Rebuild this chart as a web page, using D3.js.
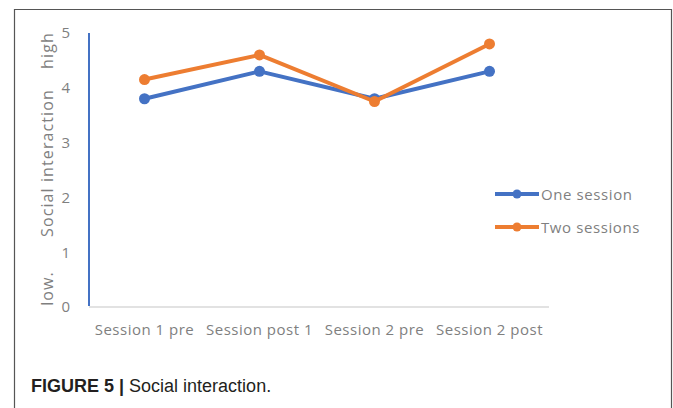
<!DOCTYPE html>
<html>
<head>
<meta charset="utf-8">
<script src="https://cdn.jsdelivr.net/npm/d3@7"></script>
<style>
  html, body { margin: 0; padding: 0; background: #fff; }
  svg { display: block; }
</style>
</head>
<body>
<script>
// Social interaction ratings per session
const categories = ["Session 1 pre", "Session post 1", "Session 2 pre", "Session 2 post"];
const oneSession = [3.8, 4.3, 3.8, 4.3];
const twoSessions = [4.15, 4.6, 3.75, 4.8];
const yTicks = [0, 1, 2, 3, 4, 5];
const seriesNames = ["One session", "Two sessions"];

const W = 673, H = 408;
const BLUE = "#4472C4", ORANGE = "#ED7D31", GREY = "#7f7f7f";
const FONT = "'Open Sans', sans-serif";

const svg = d3.select("body").append("svg")
  .attr("width", W).attr("height", H);

// figure frame
svg.append("path")
  .attr("d", "M14.5,412 V9.5 H671.5 V412")
  .attr("fill", "none").attr("stroke", "#555").attr("stroke-width", 1.2);

const x = d3.scaleBand().domain(categories).range([87, 547]);
const y = d3.scaleLinear().domain([0, 5]).range([307, 33]);

// x baseline
svg.append("line")
  .attr("x1", 89).attr("x2", 549)
  .attr("y1", y(0)).attr("y2", y(0))
  .attr("stroke", "#d9d9d9").attr("stroke-width", 1.5);

// y axis
const yAxis = svg.append("g").attr("transform", "translate(89,0)")
  .call(d3.axisLeft(y).tickValues(yTicks).tickSize(0).tickPadding(19).tickFormat(d3.format("d")));
yAxis.select(".domain").attr("stroke", BLUE).attr("stroke-width", 2)
  .attr("d", `M0,${y(5)}V${y(0) - 1}`);
yAxis.selectAll("text")
  .attr("fill", GREY).attr("font-family", FONT).attr("font-size", 15);

// x axis labels
const xAxis = svg.append("g").attr("transform", `translate(0,${y(0)})`)
  .call(d3.axisBottom(x).tickSize(0).tickPadding(17));
xAxis.select(".domain").remove();
xAxis.selectAll("text")
  .attr("fill", GREY).attr("font-family", FONT)
  .attr("font-size", 15).attr("letter-spacing", 0.5);

// y axis title pieces, read bottom to top
const titleParts = [
  { text: "low.", at: 288.5 },
  { text: "Social interaction", at: 163 },
  { text: "high", at: 50.5 }
];
svg.append("g").selectAll("text").data(titleParts).join("text")
  .attr("transform", d => `translate(53,${d.at}) rotate(-90)`)
  .attr("text-anchor", "middle")
  .attr("fill", GREY).attr("font-family", FONT)
  .attr("font-size", 16).attr("letter-spacing", 1.1)
  .text(d => d.text);

// series
const series = [
  { name: seriesNames[0], values: oneSession, color: BLUE },
  { name: seriesNames[1], values: twoSessions, color: ORANGE }
];
const cx = c => x(c) + x.bandwidth() / 2;
const line = d3.line().x((d, i) => cx(categories[i])).y(d => y(d));

series.forEach(s => {
  const g = svg.append("g");
  g.append("path").datum(s.values)
    .attr("d", line).attr("fill", "none")
    .attr("stroke", s.color).attr("stroke-width", 4)
    .attr("stroke-linejoin", "round").attr("stroke-linecap", "round");
  g.selectAll("circle").data(s.values).join("circle")
    .attr("cx", (d, i) => cx(categories[i])).attr("cy", d => y(d))
    .attr("r", 5.5).attr("fill", s.color);
});

// legend
const legend = svg.append("g").selectAll("g").data(series).join("g")
  .attr("transform", (d, i) => `translate(495,${194 + i * 33})`);
legend.append("line").attr("x1", 0).attr("x2", 44)
  .attr("stroke", d => d.color).attr("stroke-width", 4);
legend.append("circle").attr("cx", 22).attr("r", 4.5).attr("fill", d => d.color);
legend.append("text").attr("x", 46).attr("dy", "0.38em")
  .attr("fill", GREY).attr("font-family", FONT)
  .attr("font-size", 15).attr("letter-spacing", 0.6)
  .text(d => d.name);

// caption
const cap = svg.append("text").attr("x", 31).attr("y", 392)
  .attr("font-family", "'Liberation Sans', Arial, sans-serif").attr("font-size", 18)
  .attr("fill", "#231f20");
cap.append("tspan").attr("font-weight", "bold").text("FIGURE 5 | ");
cap.append("tspan").text("Social interaction.");
</script>
</body>
</html>
